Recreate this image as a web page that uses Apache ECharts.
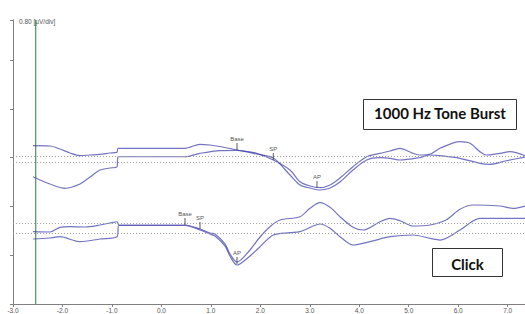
<!DOCTYPE html>
<html>
<head>
<meta charset="utf-8">
<script src="https://cdn.jsdelivr.net/npm/echarts@6/dist/echarts.min.js"></script>
<style>
html, body { margin: 0; padding: 0; background: #fff; }
#chart { width: 525px; height: 314px; }
</style>
</head>
<body>
<div id="chart"></div>
<script>
// time in ms, amplitude in divisions (0.80 uV/div)
var xTicks = [-3, -2, -1, 0, 1, 2, 3, 4, 5, 6, 7];
var stimulusTime = -2.54;
var baselineLevels = [3.033, 2.910, 1.660, 1.455];

// 1000 Hz tone burst, two runs
var toneRunA = [
    [-2.596, 3.244], [-2.252, 3.238], [-2.050, 3.176], [-1.848, 3.094], [-1.646, 3.039],
    [-1.444, 3.053], [-1.241, 3.068], [-1.039, 3.094], [-0.898, 3.109], [-0.877, 3.191],
    [0.477, 3.191], [0.780, 3.273], [0.982, 3.258], [1.184, 3.227], [1.528, 3.156],
    [1.926, 3.088], [2.262, 2.951], [2.599, 2.746], [2.801, 2.506], [3.004, 2.418],
    [3.206, 2.383], [3.408, 2.439], [3.610, 2.582], [3.873, 2.814], [4.150, 3.018],
    [4.419, 3.088], [4.621, 3.135], [4.823, 3.191], [5.086, 3.088], [5.227, 3.053],
    [5.430, 3.068], [5.632, 3.191], [6.036, 3.326], [6.238, 3.293], [6.440, 3.121],
    [6.561, 3.053], [6.845, 3.088], [7.047, 3.121], [7.350, 3.039]
];
var toneRunB = [
    [-2.596, 2.609], [-2.252, 2.459], [-1.949, 2.371], [-1.646, 2.459], [-1.444, 2.602],
    [-1.241, 2.746], [-1.039, 2.787], [-0.898, 2.814], [-0.877, 3.018], [0.477, 3.018],
    [0.780, 3.088], [1.184, 3.145], [1.528, 3.150], [1.926, 3.074], [2.262, 2.992],
    [2.599, 2.643], [2.801, 2.439], [3.004, 2.377], [3.206, 2.336], [3.408, 2.377],
    [3.610, 2.500], [3.873, 2.746], [4.150, 2.951], [4.419, 2.998], [4.621, 2.986],
    [4.823, 2.951], [5.227, 3.002], [5.430, 3.053], [5.632, 3.039], [6.036, 2.986],
    [6.440, 2.883], [6.642, 2.863], [6.946, 2.930], [7.350, 3.012]
];

// click, two runs
var clickRunA = [
    [-2.596, 1.482], [-2.252, 1.475], [-2.050, 1.572], [-1.848, 1.584], [-1.545, 1.578],
    [-1.241, 1.619], [-1.039, 1.660], [-0.898, 1.686], [-0.857, 1.619], [0.477, 1.619],
    [0.780, 1.537], [0.982, 1.455], [1.083, 1.434], [1.285, 1.230], [1.386, 1.025],
    [1.528, 0.861], [1.791, 1.107], [1.993, 1.373], [2.195, 1.584], [2.397, 1.721],
    [2.801, 1.789], [3.004, 1.961], [3.206, 2.076], [3.408, 1.982], [3.610, 1.789],
    [3.873, 1.572], [4.075, 1.516], [4.419, 1.686], [4.621, 1.756], [4.823, 1.707],
    [5.086, 1.598], [5.430, 1.619], [5.753, 1.721], [6.036, 1.941], [6.299, 2.029],
    [6.845, 2.008], [7.107, 1.961], [7.350, 2.008]
];
var clickRunB = [
    [-2.596, 1.332], [-2.252, 1.352], [-2.050, 1.379], [-1.646, 1.277], [-1.241, 1.332],
    [-0.898, 1.379], [-0.857, 1.609], [0.477, 1.609], [0.780, 1.516], [0.982, 1.434],
    [1.083, 1.393], [1.285, 1.189], [1.386, 0.984], [1.528, 0.799], [1.791, 0.984],
    [1.993, 1.174], [2.262, 1.414], [2.599, 1.461], [2.801, 1.482], [3.065, 1.598],
    [3.206, 1.639], [3.408, 1.551], [3.610, 1.379], [3.873, 1.209], [4.217, 1.277],
    [4.621, 1.379], [5.086, 1.414], [5.430, 1.346], [5.632, 1.311], [6.036, 1.516],
    [6.440, 1.756], [6.845, 1.756], [7.350, 1.756]
];

// wave markers
var markerNames = ['Base', 'SP', 'AP', 'Base', 'SP', 'AP'];
var markerTimes = [1.528, 2.262, 3.145, 0.477, 0.780, 1.528];
var markerLevels = [3.156, 2.951, 2.377, 1.619, 1.537, 0.820];

(function () {
    var myChart = echarts.init(document.getElementById('chart'), null, { renderer: 'svg' });

    var traceColor = '#3d3dab';
    function trace(name, data) {
        return {
            name: name,
            type: 'line',
            data: data,
            symbol: 'none',
            smooth: 0.3,
            lineStyle: { color: traceColor, width: 1.2, opacity: 0.72 },
            z: 3
        };
    }

    var markers = markerNames.map(function (n, i) {
        return { name: n, value: [markerTimes[i], markerLevels[i]] };
    });

    var option = {
        animation: false,
        grid: { left: 13, right: 0, top: 20, bottom: 10 },
        xAxis: {
            type: 'value',
            min: xTicks[0],
            max: 7.35,
            interval: 1,
            axisLine: { onZero: false, lineStyle: { color: '#808080', width: 1 } },
            axisTick: { length: 3, lineStyle: { color: '#808080' } },
            axisLabel: {
                fontSize: 6.5,
                color: '#555',
                margin: 3,
                showMaxLabel: false,
                formatter: function (v) {
                    return xTicks.indexOf(v) >= 0 ? v.toFixed(1) : '';
                }
            },
            splitLine: { show: false }
        },
        yAxis: {
            type: 'value',
            min: 0,
            max: 5.82,
            interval: 1,
            name: '0.80 [µV/div]',
            nameLocation: 'end',
            nameGap: -1,
            nameTextStyle: { fontSize: 6.5, color: '#555', align: 'left', verticalAlign: 'middle', padding: [0, 0, 0, 6] },
            axisLine: { show: true, onZero: false, lineStyle: { color: '#808080', width: 1 } },
            axisTick: { show: true, length: 3, lineStyle: { color: '#808080' } },
            axisLabel: { show: false },
            splitLine: { show: false }
        },
        series: [
            {
                name: 'stimulus',
                type: 'line',
                data: [[stimulusTime, 0], [stimulusTime, 5.82]],
                symbol: 'none',
                lineStyle: { color: '#2f7a3a', width: 1 },
                markLine: {
                    silent: true,
                    symbol: 'none',
                    label: { show: false },
                    lineStyle: { color: '#a0a0a0', type: [1, 2], width: 1 },
                    data: baselineLevels.map(function (y) { return { yAxis: y }; })
                },
                z: 2
            },
            trace('tone A', toneRunA),
            trace('tone B', toneRunB),
            trace('click A', clickRunA),
            trace('click B', clickRunB),
            {
                name: 'markers',
                type: 'scatter',
                data: markers,
                symbol: 'rect',
                symbolSize: [1, 7],
                symbolOffset: [0, '-50%'],
                itemStyle: { color: '#333' },
                label: {
                    show: true,
                    position: 'top',
                    distance: 1,
                    fontSize: 6,
                    color: '#222',
                    textBorderWidth: 0,
                    formatter: '{b}'
                },
                z: 5
            }
        ],
        graphic: [
            {
                type: 'group',
                left: 363,
                top: 99,
                children: [
                    { type: 'rect', shape: { x: 0, y: 0, width: 153, height: 30 },
                      style: { fill: '#fff', stroke: '#333', lineWidth: 1 } },
                    { type: 'text', x: 76.5, y: 13,
                      style: { text: '1000 Hz Tone Burst', font: 'bold 15px Lato', fill: '#111', align: 'center', verticalAlign: 'middle' } }
                ]
            },
            {
                type: 'group',
                left: 432,
                top: 248,
                children: [
                    { type: 'rect', shape: { x: 0, y: 0, width: 70, height: 28 },
                      style: { fill: '#fff', stroke: '#333', lineWidth: 1 } },
                    { type: 'text', x: 35, y: 15,
                      style: { text: 'Click', font: 'bold 15px Lato', fill: '#111', align: 'center', verticalAlign: 'middle' } }
                ]
            }
        ]
    };

    myChart.setOption(option);
})();
</script>
</body>
</html>
